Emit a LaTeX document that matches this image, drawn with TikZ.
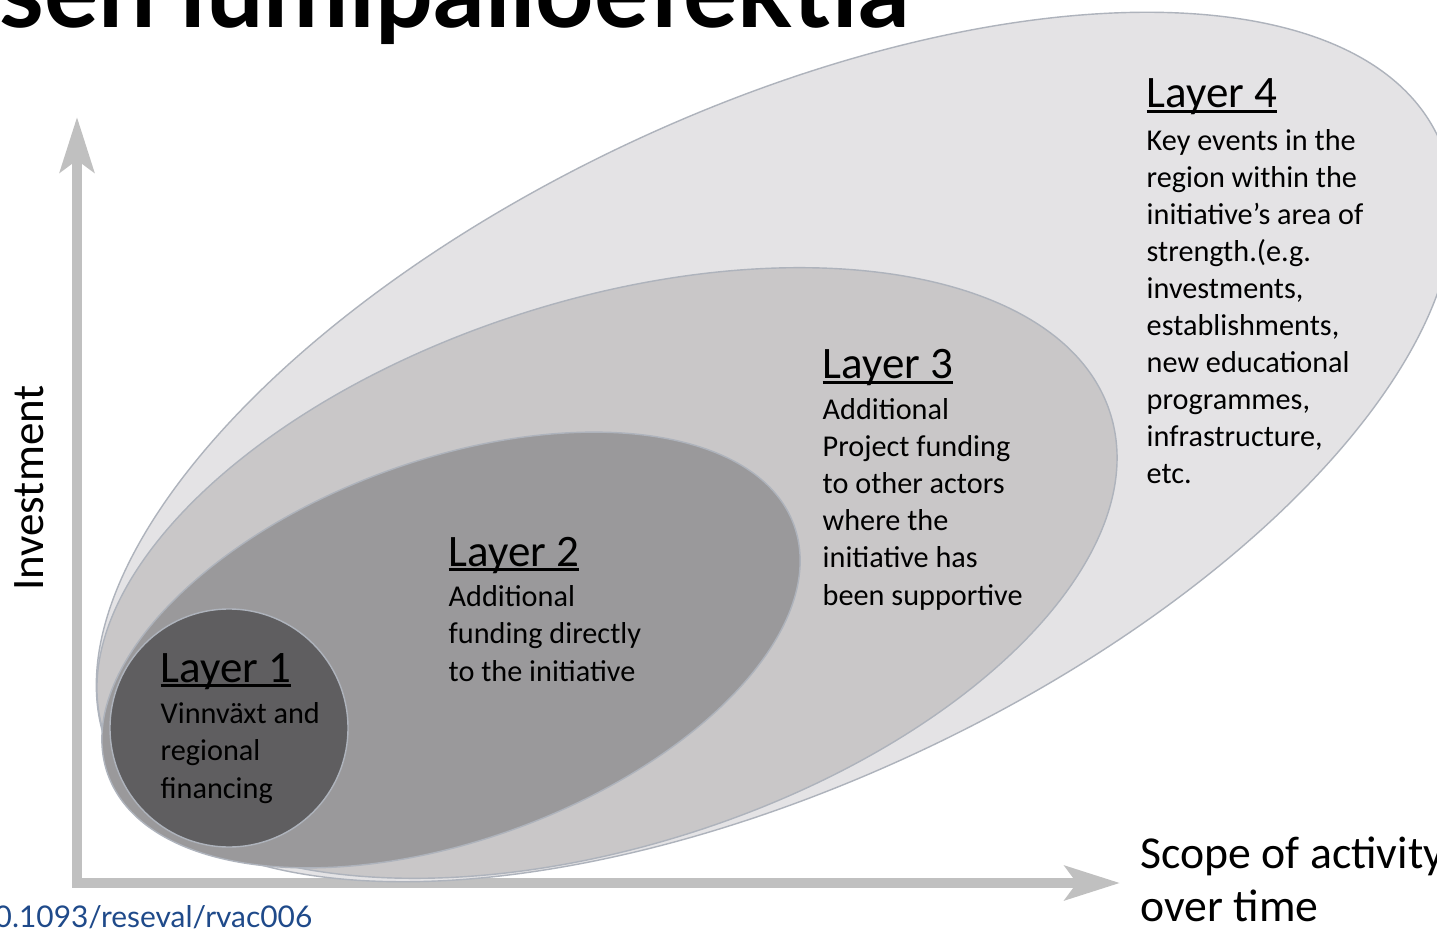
\documentclass[tikz,border=0pt]{standalone}
\usepackage{fontspec}
\setmainfont{Carlito}
\newfontfamily\titlefont{Lato}
\usetikzlibrary{arrows.meta}

\definecolor{shellA}{HTML}{5F5E60}
\definecolor{shellB}{HTML}{9A999B}
\definecolor{shellC}{HTML}{C9C7C8}
\definecolor{shellD}{HTML}{E4E3E5}
\definecolor{rim}{HTML}{AEB3BC}
\definecolor{axisgray}{HTML}{C0C0C0}
\definecolor{doiblue}{HTML}{1F4A8A}

% underlined layer heading
\newcommand{\ulayer}[1]{{\setbox0\hbox{#1}\rlap{\rule[-1.3pt]{\wd0}{0.8pt}}\box0}}

\tikzset{
  shell/.style={draw=rim, line width=0.4pt},
  headtxt/.style={anchor=base west, inner sep=0pt, font=\fontsize{12.8}{15}\selectfont},
  bodytxt/.style={anchor=base west, inner sep=0pt, align=left, font=\fontsize{8.6}{10.53}\selectfont},
  axis/.style={axisgray, line width=2.85pt,
    {Stealth[length=0.55cm,width=0.34cm,inset=0.12cm]}-{Stealth[length=0.55cm,width=0.34cm,inset=0.12cm]}}
}

\begin{document}
\begin{tikzpicture}[x=0.01cm, y=-0.01cm]
    % Canvas
    \path[use as bounding box, fill=white] (0,0) rectangle (1437,931);

    % Title, cut off by the top edge
    \node[anchor=base east, inner sep=0pt, font=\titlefont\bfseries\fontsize{29}{30}\selectfont] (title) at (910,28) {sen lumipalloefektia};

    % Axes
    \coordinate (ytip) at (77,117);
    \coordinate (origin) at (77,883);
    \coordinate (xtip) at (1120,883);
    \draw[axis] (ytip) -- (origin) -- (xtip);

    % Layers, outermost first
    \filldraw[shell, fill=shellD, rotate around={25:(775,447)}] (775,447) ellipse [x radius=732, y radius=337];
    \filldraw[shell, fill=shellC, rotate around={17.6:(607,573)}] (607,573) ellipse [x radius=528, y radius=273];
    \filldraw[shell, fill=shellB, rotate around={20:(451,650)}] (451,650) ellipse [x radius=365, y radius=190];
    \filldraw[shell, fill=shellA] (229,728) circle [radius=119];

    % Layer texts (body nodes sit on the baseline of their last line)
    \node[headtxt] (l4head) at (1146,108) {\ulayer{Layer 4}};
    \node[bodytxt] (l4text) at (1146,484) {Key events in the\\region within the\\initiative’s area of\\strength.(e.g.\\investments,\\establishments,\\new educational\\programmes,\\infrastructure,\\etc.};

    \node[headtxt] (l3head) at (822,379) {\ulayer{Layer 3}};
    \node[bodytxt] (l3text) at (822,605) {Additional\\Project funding\\to other actors\\where the\\initiative has\\been supportive};

    \node[headtxt] (l2head) at (448,566) {\ulayer{Layer 2}};
    \node[bodytxt] (l2text) at (448,681) {Additional\\funding directly\\to the initiative};

    \node[headtxt] (l1head) at (160,682) {\ulayer{Layer 1}};
    \node[bodytxt] (l1text) at (160,798) {Vinnväxt and\\regional\\financing};

    % Axis labels
    \node[rotate=90, anchor=base, inner sep=0pt, font=\fontsize{12.8}{15}\selectfont] (ylabel) at (44,488) {Investment};
    \node[anchor=base west, inner sep=0pt, align=left, font=\fontsize{13}{15}\selectfont] (xlabel) at (1140,921) {Scope of activity\\over time};

    % Source
    \node[anchor=base west, inner sep=0pt, text=doiblue, font=\titlefont\fontsize{8.5}{10}\selectfont] (doi) at (-6,927) {0.1093/reseval/rvac006};
\end{tikzpicture}
\end{document}
